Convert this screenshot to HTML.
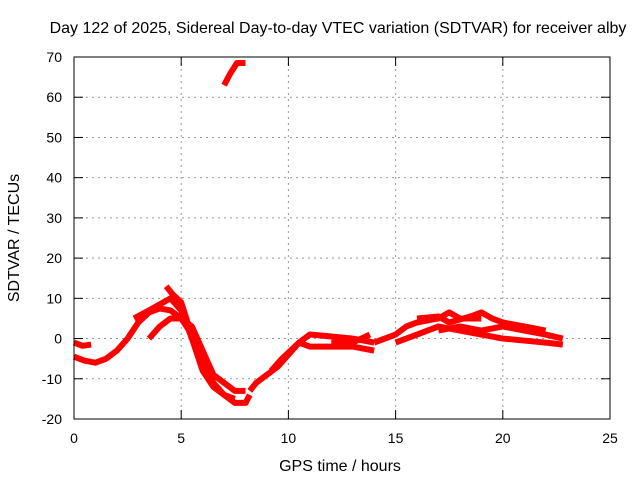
<!DOCTYPE html>
<html><head><meta charset="utf-8"><style>
body{margin:0;background:#fff}
svg{display:block;font-family:"Liberation Sans",sans-serif}
</style></head><body>
<svg id="chart" width="640" height="480">
<text x="338" y="33" font-size="16" text-anchor="middle">Day 122 of 2025, Sidereal Day-to-day VTEC variation (SDTVAR) for receiver alby</text>
<text x="340" y="471" font-size="16" text-anchor="middle">GPS time / hours</text>
<text x="19" y="238" font-size="16" text-anchor="middle" transform="rotate(-90 19 238)">SDTVAR / TECUs</text>
<g id="grid"></g><g id="ticks"></g><g id="series"></g>
<rect x="74" y="57" width="536" height="362" fill="none" stroke="#000" stroke-width="1"/>
</svg>
<script>
const xTicks=[0,5,10,15,20,25];
const yTicks=[-20,-10,0,10,20,30,40,50,60,70];
const track1=[[0,-1],[0.4,-1.8],[0.8,-1.5]];
const track2=[[0,-4.5],[0.5,-5.5],[1,-6],[1.5,-5],[2,-3],[2.5,0],[3,4],[3.5,6.5],[4,7.5],[4.5,7],[5,5],[5.5,1],[6,-5],[6.5,-11],[7,-14],[7.5,-16],[8,-16],[8.2,-14]];
const track3=[[2.8,5],[3.5,7],[4,8.5],[4.5,10],[5,7],[5.5,0],[6,-8],[6.5,-12],[7,-14],[7.5,-15]];
const track4=[[3.5,0],[4,3],[4.5,5],[5,5],[5.5,3],[6,-3],[6.5,-9],[7,-11],[7.5,-13],[8,-13]];
const track5=[[4.3,13],[4.6,11],[5,9],[5.3,4]];
const track6=[[8.2,-13],[8.5,-11],[9,-9],[9.5,-7],[10,-4],[10.5,-1],[11,1],[12,0.5],[13,0],[14,-1]];
const track7=[[9.2,-8],[9.7,-5],[10.5,-1],[11,-2],[12,-2],[13,-2],[14,-3]];
const track8=[[12,-1],[13,-1],[13.8,1]];
const track9=[[14,-1],[15,1],[15.5,3],[16,4],[17,5],[17.5,6.5],[18,5],[19,5]];
const track10=[[15,-1],[16,1],[17,3],[18,2],[19,1],[20,0],[21,-0.5],[22,-1],[22.8,-1.5]];
const track11=[[16,5],[17,5.5],[17.5,4],[18.5,5.5],[19,6.5],[19.5,5],[20,4],[21,3],[22,2]];
const track12=[[17,2],[18,3],[19,2],[20,3],[21,2],[22,1],[22.8,0]];
const track13=[[7.0,63],[7.3,66],[7.6,68.5],[8.0,68.5]];
const tracks=[track1,track2,track3,track4,track5,track6,track7,track8,track9,track10,track11,track12,track13];
const X=h=>74+h*536/25, Y=v=>419-(v+20)*362/90;
const NS="http://www.w3.org/2000/svg";
const grid=document.getElementById('grid'),ticks=document.getElementById('ticks'),series=document.getElementById('series');
function mk(tag,attrs,parent){const e=document.createElementNS(NS,tag);for(const k in attrs)e.setAttribute(k,attrs[k]);parent.appendChild(e);return e;}
xTicks.forEach(t=>{
 if(t>0&&t<25){const g=mk('line',{x1:X(t),x2:X(t),y1:57,y2:419,stroke:'#999','stroke-dasharray':'2,4'},grid);
 
 }
 mk('line',{x1:X(t),x2:X(t),y1:419,y2:410,stroke:'#000'},ticks);
 mk('line',{x1:X(t),x2:X(t),y1:57,y2:66,stroke:'#000'},ticks);
 const l=mk('text',{x:X(t),y:443,'font-size':14,'text-anchor':'middle'},ticks);l.textContent=t;
 
 
});
yTicks.forEach(t=>{
 if(t>-20&&t<70){const g=mk('line',{x1:74,x2:610,y1:Y(t),y2:Y(t),stroke:'#999','stroke-dasharray':'2,4'},grid);
 
 }
 mk('line',{x1:74,x2:83,y1:Y(t),y2:Y(t),stroke:'#000'},ticks);
 mk('line',{x1:601,x2:610,y1:Y(t),y2:Y(t),stroke:'#000'},ticks);
 const l=mk('text',{x:62,y:Y(t)+5,'font-size':14,'text-anchor':'end'},ticks);l.textContent=t;
 
 
});
tracks.forEach(tr=>{
 const p=mk('polyline',{points:tr.map(d=>X(d[0])+','+Y(d[1])).join(' '),fill:'none',stroke:'#f00','stroke-width':6,'stroke-linejoin':'round'},series);
 
 
});
</script>
</body></html>
